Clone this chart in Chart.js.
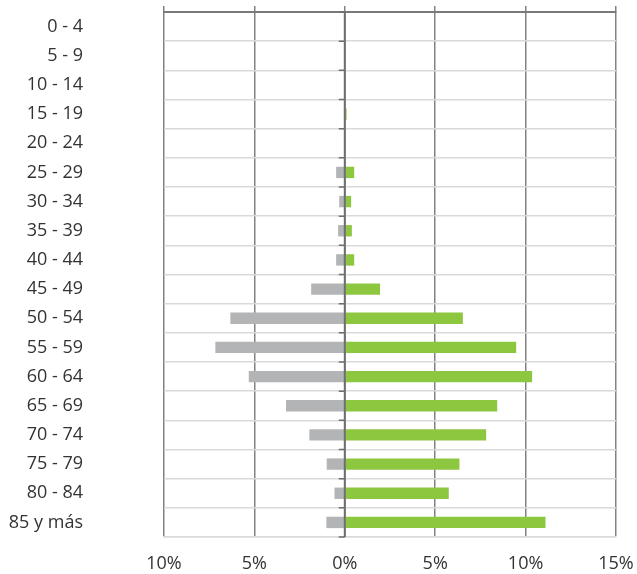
<!DOCTYPE html>
<html>
<head>
<meta charset="utf-8">
<script src="https://cdn.jsdelivr.net/npm/chart.js@4/dist/chart.umd.min.js"></script>
<style>
  html, body { margin: 0; padding: 0; background: #ffffff; }
  #wrap { width: 637px; height: 574px; position: relative; }
</style>
</head>
<body>
<div id="wrap"><canvas id="c"></canvas></div>
<script>
const categories = ['0 - 4', '5 - 9', '10 - 14', '15 - 19', '20 - 24', '25 - 29', '30 - 34', '35 - 39', '40 - 44', '45 - 49', '50 - 54', '55 - 59', '60 - 64', '65 - 69', '70 - 74', '75 - 79', '80 - 84', '85 y más'];
const grayValues = [0, 0, 0, -0.05, 0, -0.48, -0.31, -0.37, -0.48, -1.86, -6.33, -7.16, -5.31, -3.25, -1.96, -1.0, -0.57, -1.02];
const greenValues = [0, 0, 0, 0.1, 0, 0.52, 0.35, 0.39, 0.52, 1.95, 6.53, 9.48, 10.36, 8.43, 7.82, 6.34, 5.75, 11.1];
const xMin = -10, xMax = 15, xStep = 5;

const FONT = { family: 'Open Sans', size: 18 };
const TEXT = '#333333';
const DARK = '#828282';
const LIGHT = '#d9d9d9';

// zero axis line with small outward tick marks at the category boundaries
const zeroAxis = {
  id: 'zeroAxis',
  afterDatasetsDraw(chart) {
    const x = chart.scales.x, y = chart.scales.y, ctx = chart.ctx;
    const px = x.getPixelForValue(0);
    const n = y.ticks.length;
    const half = (y.getPixelForValue(1) - y.getPixelForValue(0)) / 2;
    ctx.save();
    ctx.strokeStyle = '#6e6e6e';
    ctx.lineWidth = 2;
    ctx.beginPath();
    ctx.moveTo(px, chart.chartArea.top);
    ctx.lineTo(px, chart.chartArea.bottom);
    ctx.stroke();
    ctx.lineWidth = 1.5;
    ctx.beginPath();
    for (let i = 0; i <= n; i++) {
      const py = y.getPixelForValue(i) - half;
      ctx.moveTo(px, py);
      ctx.lineTo(px - 6, py);
    }
    ctx.stroke();
    ctx.restore();
  }
};

new Chart(document.getElementById('c'), {
  type: 'bar',
  data: {
    labels: categories,
    datasets: [
      { data: grayValues, backgroundColor: '#b3b4b6', borderWidth: 0, barPercentage: 0.39, categoryPercentage: 1 },
      { data: greenValues, backgroundColor: '#8dc63f', borderWidth: 0, barPercentage: 0.39, categoryPercentage: 1 }
    ]
  },
  plugins: [zeroAxis],
  options: {
    indexAxis: 'y',
    responsive: true,
    maintainAspectRatio: false,
    animation: false,
    layout: { padding: { top: 6, right: 21, bottom: 0, left: 0 } },
    plugins: { legend: { display: false }, tooltip: { enabled: false } },
    scales: {
      x: {
        type: 'linear', position: 'bottom', stacked: true,
        min: xMin, max: xMax,
        ticks: { stepSize: xStep, font: FONT, color: TEXT, padding: 16,
          callback: v => Math.abs(v) + '%' },
        grid: { color: DARK, lineWidth: 1.5, drawTicks: false },
        border: { color: LIGHT, width: 1.5 },
        afterFit: s => { s.height = 37; s.paddingLeft = 0; s.paddingRight = 0; }
      },
      xTop: {
        type: 'linear', position: 'top',
        min: xMin, max: xMax,
        ticks: { stepSize: xStep, display: false },
        grid: { color: DARK, lineWidth: 1.5, drawOnChartArea: false, drawTicks: true, tickLength: 6 },
        border: { color: '#7a7a7a', width: 2 },
        afterFit: s => { s.paddingLeft = 0; s.paddingRight = 0; }
      },
      y: {
        type: 'category', position: 'left', stacked: true, offset: true,
        ticks: { font: FONT, color: TEXT, padding: 81 },
        grid: { offset: true, drawTicks: false, lineWidth: 1.5, color: LIGHT },
        border: { display: false },
        afterFit: s => { s.width = 164; s.paddingTop = 0; s.paddingBottom = 0; }
      }
    }
  }
});
</script>
</body>
</html>
